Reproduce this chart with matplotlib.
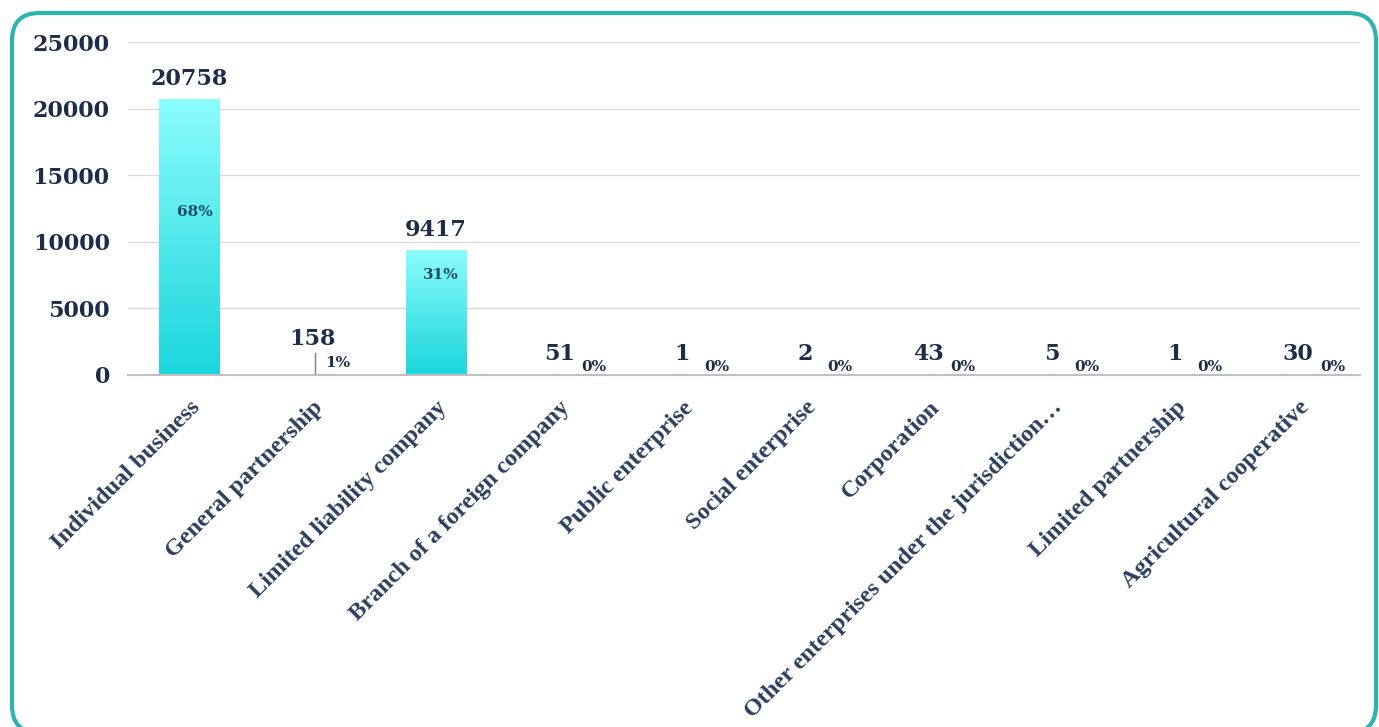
import numpy as np
import matplotlib.pyplot as plt
from matplotlib.colors import LinearSegmentedColormap
from matplotlib.patches import FancyBboxPatch

# enterprise counts by legal form
categories = [
    "Individual business",
    "General partnership",
    "Limited liability company",
    "Branch of a foreign company",
    "Public enterprise",
    "Social enterprise",
    "Corporation",
    "Other enterprises under the jurisdiction\u2026",
    "Limited partnership",
    "Agricultural cooperative",
]
counts = [20758, 158, 9417, 51, 1, 2, 43, 5, 1, 30]
shares = ["68%", "1%", "31%", "0%", "0%", "0%", "0%", "0%", "0%", "0%"]
y_ticks = [0, 5000, 10000, 15000, 20000, 25000]

navy = "#1c2d4a"
label_blue = "#2a3f5f"
serif = ["Liberation Serif", "DejaVu Serif"]
num_font = ["DejaVu Serif"]


def draw_chart():
    fig = plt.figure(figsize=(13.79, 7.27), dpi=100)
    ax = fig.add_axes([0.0928, 0.4842, 0.8934, 0.458])

    x = np.arange(len(categories))
    width = 0.49
    bars = ax.bar(x, counts, width=width, color="none", edgecolor="none", zorder=2)

    # vertical cyan gradient inside each bar
    grad = np.linspace(0, 1, 256).reshape(-1, 1)
    cmap = LinearSegmentedColormap.from_list("cyan", ["#1ad6dc", "#8cfcfc"])
    for b in bars:
        x0, y0 = b.get_x(), b.get_y()
        w, h = b.get_width(), b.get_height()
        if h < 1000:
            continue
        im = ax.imshow(grad, cmap=cmap, aspect="auto", origin="lower",
                       extent=[x0, x0 + w, y0, y0 + h], zorder=2)
        im.set_clip_path(b)

    ax.set_xlim(-0.5, len(categories) - 0.5)
    ax.set_ylim(0, 25000)
    ax.set_yticks(y_ticks)
    ax.set_yticklabels([str(t) for t in y_ticks], fontsize=16,
                       fontweight="bold", color=navy, family=num_font)
    ax.tick_params(axis="y", length=0, pad=13)
    ax.set_xticks(x)
    ax.set_xticklabels(categories, rotation=45, ha="right",
                       rotation_mode="anchor", fontsize=17.5, fontweight="bold",
                       color=label_blue, family=serif)
    ax.tick_params(axis="x", length=0, pad=16)

    ax.grid(axis="y", color="#d9d9d9", lw=1, zorder=0)
    ax.set_axisbelow(True)
    for s in ["top", "right", "left"]:
        ax.spines[s].set_visible(False)
    ax.spines["bottom"].set_color("#bfbfbf")
    ax.spines["bottom"].set_linewidth(1.5)

    # value and share labels
    for i, (v, pct) in enumerate(zip(counts, shares)):
        if v > 5000:
            ax.text(i, v + 1000, str(v), ha="center", va="baseline",
                    fontsize=16, fontweight="bold", color=navy, family=num_font)
            ax.text(i + 0.04, v * 0.59 if v > 15000 else v * 0.8, pct,
                    ha="center", va="center", fontsize=11, fontweight="bold",
                    color="#1d4a66", family=num_font)
        elif v > 100:
            # leader line from the thin bar up to its label
            ax.plot([i + 0.02, i + 0.02], [v, 1650], color="#7f7f7f", lw=1, zorder=3)
            ax.text(i, 2250, str(v), ha="center", va="baseline",
                    fontsize=16, fontweight="bold", color=navy, family=num_font)
            ax.text(i + 0.2, 900, pct, ha="center", va="center",
                    fontsize=11, fontweight="bold", color=navy, family=num_font)
        else:
            ax.text(i, 1600, str(v), ha="center", va="center",
                    fontsize=16, fontweight="bold", color=navy, family=num_font)
            ax.text(i + 0.28, 600, pct, ha="center", va="center",
                    fontsize=11, fontweight="bold", color=navy, family=num_font)

    # rounded teal frame around the whole chart
    frame = FancyBboxPatch((12 / 1379, -6 / 727), 1364 / 1379, 720 / 727,
                           boxstyle="round,pad=0,rounding_size=0.02",
                           transform=fig.transFigure, facecolor="none",
                           edgecolor="#2bb3af", lw=3, mutation_aspect=1379 / 727)
    fig.patches.append(frame)

    fig.savefig("out.png", dpi=100)


def main():
    draw_chart()


if __name__ == "__main__":
    main()
